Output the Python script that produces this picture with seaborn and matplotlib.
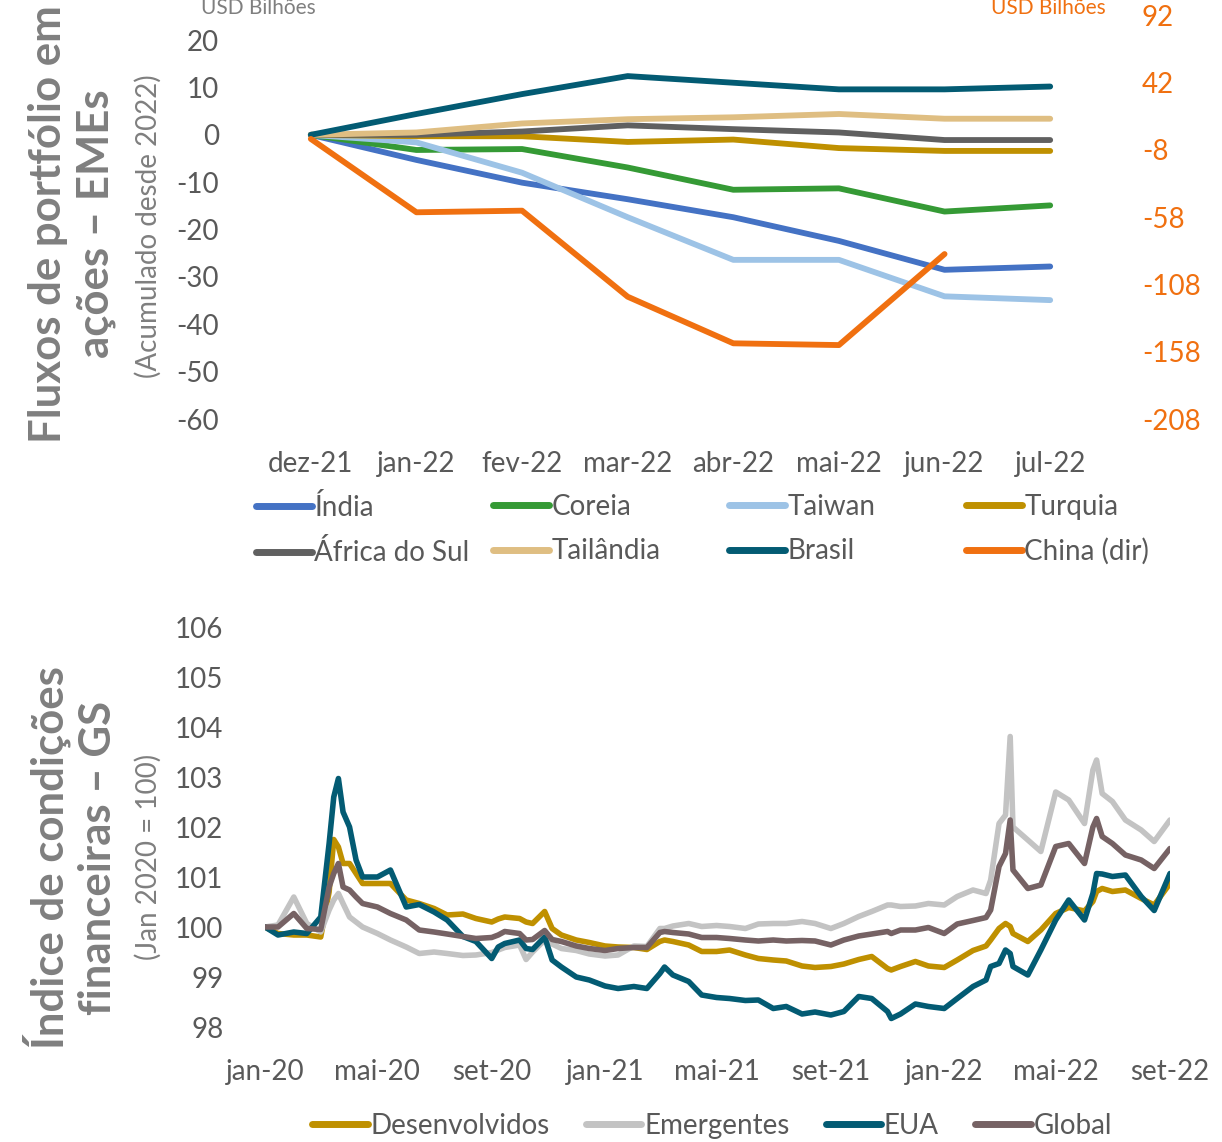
import numpy as np
import pandas as pd
import matplotlib
matplotlib.use("Agg")
import matplotlib.pyplot as plt
import matplotlib.dates as mdates
from matplotlib.lines import Line2D
import seaborn as sns

# ---- painel de cima: fluxos de portfolio (USD bi, acumulado) ----
meses = ["dez-21", "jan-22", "fev-22", "mar-22", "abr-22", "mai-22", "jun-22", "jul-22"]
india = [0, -5.3, -10.1, -13.6, -17.4, -22.4, -28.5, -27.8]
coreia = [0, -3.2, -3.0, -6.9, -11.6, -11.3, -16.2, -14.9]
taiwan = [0, -1.6, -8.0, -17.4, -26.4, -26.4, -34.1, -34.9]
turquia = [0, -0.3, -0.3, -1.5, -1.0, -2.8, -3.4, -3.4]
africa_sul = [0, 0.0, 0.7, 2.0, 1.2, 0.5, -1.1, -1.1]
tailandia = [0, 0.5, 2.4, 3.3, 3.7, 4.4, 3.4, 3.4]
brasil = [0, 4.4, 8.6, 12.4, 11.0, 9.6, 9.6, 10.2]
china = [0, -54.5, -53.3, -117.2, -151.8, -153.1, -85.5, np.nan]

# ---- painel de baixo: indice de condicoes financeiras GS ----
datas = [
    "2020-01-01", "2020-01-15", "2020-02-01", "2020-02-15", "2020-03-01", "2020-03-10",
    "2020-03-15", "2020-03-20", "2020-03-25", "2020-04-01", "2020-04-08", "2020-04-15",
    "2020-05-01", "2020-05-15", "2020-06-01", "2020-06-15", "2020-07-01", "2020-07-15",
    "2020-08-01", "2020-08-15", "2020-09-01", "2020-09-08", "2020-09-15", "2020-10-01",
    "2020-10-08", "2020-10-15", "2020-10-28", "2020-11-05", "2020-11-15", "2020-12-01",
    "2020-12-15",
    "2021-01-01", "2021-01-15", "2021-02-01", "2021-02-15", "2021-03-01", "2021-03-06",
    "2021-03-15", "2021-04-01", "2021-04-15", "2021-05-01", "2021-05-15", "2021-06-01",
    "2021-06-15", "2021-07-01", "2021-07-15", "2021-08-01", "2021-08-15", "2021-09-01",
    "2021-09-15", "2021-10-01", "2021-10-15", "2021-11-01", "2021-11-05", "2021-11-15",
    "2021-12-01", "2021-12-15",
    "2022-01-01", "2022-01-15", "2022-02-01", "2022-02-15", "2022-02-20", "2022-03-01",
    "2022-03-08", "2022-03-13", "2022-03-16", "2022-04-01", "2022-04-15", "2022-05-01",
    "2022-05-15", "2022-06-01", "2022-06-10", "2022-06-14", "2022-06-20", "2022-07-01",
    "2022-07-15", "2022-08-01", "2022-08-15", "2022-09-01",
]
desenvolvidos = [
    100.0, 99.87, 99.84, 99.84, 99.8, 100.7, 101.75, 101.6, 101.27, 101.27, 101.07, 100.87,
    100.87, 100.87, 100.54, 100.47, 100.37, 100.24, 100.26, 100.17, 100.1, 100.16, 100.2,
    100.17, 100.1, 100.07, 100.31, 99.97, 99.84, 99.74, 99.69,
    99.62, 99.6, 99.59, 99.55, 99.71, 99.74, 99.71, 99.64, 99.51, 99.51, 99.54, 99.44,
    99.37, 99.34, 99.32, 99.22, 99.19, 99.21, 99.26, 99.35, 99.41, 99.17, 99.14, 99.21,
    99.31, 99.22,
    99.19, 99.34, 99.53, 99.62, 99.74, 99.97, 100.07, 100.01, 99.87, 99.71, 99.94, 100.27,
    100.39, 100.32, 100.51, 100.71, 100.77, 100.71, 100.74, 100.57, 100.44, 100.87,
]
emergentes = [
    100.0, 100.04, 100.6, 100.07, 99.9, 100.34, 100.54, 100.67, 100.47, 100.2, 100.1, 100.0,
    99.87, 99.74, 99.6, 99.47, 99.5, 99.47, 99.43, 99.44, 99.49, 99.54, 99.59, 99.64,
    99.35, 99.5, 99.74, 99.66, 99.57, 99.53, 99.46,
    99.42, 99.44, 99.62, 99.61, 99.97, 99.97, 100.02, 100.07, 100.01, 100.03, 100.01, 99.97,
    100.06, 100.07, 100.07, 100.11, 100.07, 99.97, 100.07, 100.21, 100.31, 100.44, 100.44,
    100.41, 100.42, 100.47,
    100.44, 100.61, 100.74, 100.67, 100.94, 102.07, 102.24, 103.81, 102.0, 101.74, 101.51,
    102.7, 102.54, 102.07, 103.14, 103.34, 102.67, 102.51, 102.14, 101.94, 101.71, 102.14,
]
eua = [
    100.0, 99.84, 99.9, 99.87, 100.2, 101.67, 102.6, 102.97, 102.3, 102.0, 101.34, 101.0,
    101.0, 101.14, 100.4, 100.45, 100.3, 100.14, 99.81, 99.71, 99.37, 99.6, 99.67, 99.74,
    99.57, 99.55, 99.8, 99.34, 99.2, 99.0, 98.94,
    98.82, 98.77, 98.81, 98.77, 99.07, 99.2, 99.04, 98.91, 98.64, 98.59, 98.57, 98.53,
    98.54, 98.37, 98.41, 98.26, 98.3, 98.24, 98.31, 98.61, 98.57, 98.31, 98.17, 98.26,
    98.46, 98.41,
    98.37, 98.57, 98.81, 98.94, 99.21, 99.27, 99.54, 99.47, 99.21, 99.04, 99.54, 100.14,
    100.54, 100.14, 100.67, 101.07, 101.06, 101.01, 101.04, 100.61, 100.33, 101.07,
]
global_ = [
    100.0, 100.0, 100.27, 99.97, 99.95, 100.8, 101.07, 101.27, 100.8, 100.74, 100.6, 100.47,
    100.4, 100.27, 100.14, 99.94, 99.9, 99.86, 99.81, 99.77, 99.79, 99.84, 99.91, 99.87,
    99.74, 99.75, 99.93, 99.75, 99.71, 99.62, 99.57,
    99.53, 99.57, 99.59, 99.59, 99.89, 99.91, 99.89, 99.86, 99.79, 99.79, 99.77, 99.74,
    99.72, 99.74, 99.72, 99.73, 99.72, 99.64, 99.74, 99.82, 99.86, 99.91, 99.87, 99.94,
    99.94, 99.99,
    99.87, 100.06, 100.13, 100.19, 100.34, 101.21, 101.47, 102.14, 101.14, 100.77, 100.84,
    101.61, 101.67, 101.27, 102.0, 102.17, 101.81, 101.67, 101.44, 101.34, 101.17, 101.57,
]

W, H = 1222, 1142
cinza = "#7F7F7F"
cinza_tick = "#595959"
laranja = "#F07010"

sns.set_theme(style="white")
plt.rcParams["font.family"] = ["Lato", "DejaVu Sans"]
plt.rcParams["axes.unicode_minus"] = False

fig = plt.figure(figsize=(W / 100, H / 100), dpi=100)


def rect(x0, y0, x1, y1):
    # caixa em pixels (origem no topo) -> fracao da figura
    return [x0 / W, 1 - y1 / H, (x1 - x0) / W, (y1 - y0) / H]


lw = 4.2
kw = dict(solid_capstyle="round", solid_joinstyle="round")

# ---------------- painel de cima ----------------
ax1 = fig.add_axes(rect(258, 15, 1103, 419))
ax2 = ax1.twinx()
pos = np.arange(len(meses))

series_top = [
    ("Índia", india, "#4472C4"),
    ("Coreia", coreia, "#359A35"),
    ("Taiwan", taiwan, "#9DC3E6"),
    ("Turquia", turquia, "#BF9000"),
    ("África do Sul", africa_sul, "#606060"),
    ("Tailândia", tailandia, "#DFBE82"),
    ("Brasil", brasil, "#035B73"),
]
handles_top = {}
for nome, vals, cor in series_top:
    sns.lineplot(x=pos, y=vals, ax=ax1, color=cor, lw=lw, **kw)
    handles_top[nome] = Line2D([], [], color=cor, lw=5, solid_capstyle="round")
sns.lineplot(x=pos, y=china, ax=ax2, color=laranja, lw=lw, **kw)
handles_top["China (dir)"] = Line2D([], [], color=laranja, lw=5, solid_capstyle="round")

ax1.set_xlim(-0.5, len(meses) - 0.5)
ax1.set_ylim(-60, 25.3)
ax1.set_yticks(np.arange(-60, 21, 10))
ax2.set_ylim(-208, 92)
ax2.set_yticks(np.arange(-208, 93, 50))
ax1.set_xticks(pos)
ax1.set_xticklabels(meses)
ax1.tick_params(axis="x", labelsize=20, labelcolor=cinza_tick, pad=23, length=0)
ax1.tick_params(axis="y", labelsize=20, labelcolor=cinza_tick, pad=28, length=0)
ax2.tick_params(axis="y", labelsize=20, labelcolor=laranja, pad=28, length=0)
for a in (ax1, ax2):
    a.set_xlabel("")
    a.set_ylabel("")
    for s in a.spines.values():
        s.set_visible(False)
    a.grid(False)

fig.text(258 / W, 1 - 8 / H, "USD Bilhões", color=cinza, fontsize=15, ha="center", va="center")
fig.text(1048 / W, 1 - 8 / H, "USD Bilhões", color=laranja, fontsize=15, ha="center", va="center")

fig.text(72 / W, 1 - 224 / H, "Fluxos de portfólio em\nações – EMEs", rotation=90,
         fontsize=31.5, fontweight="bold", color=cinza, ha="center", va="center",
         multialignment="center", linespacing=1.2)
fig.text(148 / W, 1 - 226 / H, "(Acumulado desde 2022)", rotation=90,
         fontsize=20, color=cinza, ha="center", va="center")

# legenda de cima: 4 colunas de largura fixa
colunas = [["Índia", "África do Sul"], ["Coreia", "Tailândia"],
           ["Taiwan", "Brasil"], ["Turquia", "China (dir)"]]
x_cols = [256, 493, 729, 966]
for xc, nomes in zip(x_cols, colunas):
    fig.legend([handles_top[n] for n in nomes], nomes, loc="upper left",
               bbox_to_anchor=(xc / W, 1 - 494 / H), frameon=False, fontsize=20,
               labelcolor=cinza_tick, handlelength=2.0, handletextpad=0.1,
               labelspacing=0.66, borderpad=0, borderaxespad=0)

# ---------------- painel de baixo ----------------
ax3 = fig.add_axes(rect(265, 627, 1170, 1027))
dts = pd.to_datetime(datas)
series_bot = [
    ("Desenvolvidos", desenvolvidos, "#BF9000"),
    ("Emergentes", emergentes, "#C3C3C3"),
    ("EUA", eua, "#035B73"),
    ("Global", global_, "#766264"),
]
handles_bot = []
for nome, vals, cor in series_bot:
    sns.lineplot(x=dts, y=vals, ax=ax3, color=cor, lw=4.0, **kw)
    handles_bot.append(Line2D([], [], color=cor, lw=5, solid_capstyle="round"))

ax3.set_xlim(pd.Timestamp("2020-01-01"), pd.Timestamp("2022-09-01"))
ax3.set_ylim(98, 106)
ax3.set_yticks(np.arange(98, 107, 1))
ax3.xaxis.set_major_locator(mdates.MonthLocator(bymonth=[1, 5, 9]))
mes_pt = {1: "jan", 5: "mai", 9: "set"}
ax3.xaxis.set_major_formatter(
    plt.FuncFormatter(lambda v, p: "%s-%s" % (mes_pt[mdates.num2date(v).month],
                                              mdates.num2date(v).strftime("%y"))))
ax3.tick_params(axis="x", labelsize=20, labelcolor=cinza_tick, pad=23, length=0)
ax3.tick_params(axis="y", labelsize=20, labelcolor=cinza_tick, pad=30, length=0)
ax3.set_xlabel("")
ax3.set_ylabel("")
for s in ax3.spines.values():
    s.set_visible(False)
ax3.grid(False)

fig.text(70 / W, 1 - 858 / H, "Índice de condições\nfinanceiras – GS", rotation=90,
         fontsize=31.5, fontweight="bold", color=cinza, ha="center", va="center",
         multialignment="center", linespacing=1.2)
fig.text(148 / W, 1 - 857 / H, "(Jan 2020 = 100)", rotation=90,
         fontsize=20, color=cinza, ha="center", va="center")

fig.legend(handles_bot, [s[0] for s in series_bot], loc="center",
           bbox_to_anchor=(712 / W, 1 - 1126 / H), ncol=4, frameon=False, fontsize=20,
           labelcolor=cinza_tick, handlelength=2.0, handletextpad=0.1,
           columnspacing=1.3, borderpad=0, borderaxespad=0)

fig.savefig("out.png", dpi=100)
